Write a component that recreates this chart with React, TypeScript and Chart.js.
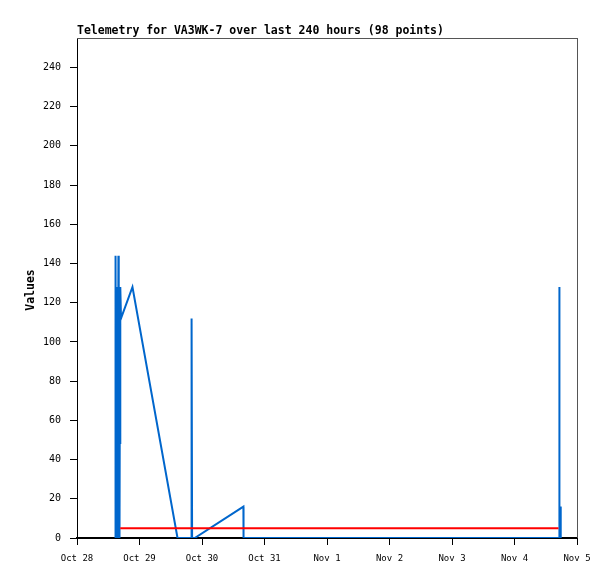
import { useEffect, useRef } from "react";
import { Chart, registerables } from "chart.js";

Chart.register(...registerables);

const TITLE = "Telemetry for VA3WK-7 over last 240 hours (98 points)";
const Y_TITLE = "Values";
// x axis: hours since Oct 28 00:00
const X_TICK_LABELS = ["Oct 28", "Oct 29", "Oct 30", "Oct 31", "Nov 1", "Nov 2", "Nov 3", "Nov 4", "Nov 5"];
const X_MAX_HOURS = 192;
const X_STEP_HOURS = 24;
const Y_MAX = 255;
const Y_STEP = 20;

const blueHours = [
  14.6, 14.7, 14.75, 14.95, 15.0, 15.3, 15.35, 15.6, 15.65, 15.9, 15.95, 16.1, 16.15, 16.3, 16.35,
  16.55, 16.6, 16.65, 16.9, 21.3, 38.6,
  43.85, 43.9, 43.95, 44.0, 44.15, 44.2, 45.2, 63.9, 63.95,
  185.15, 185.2, 185.3, 185.7, 185.75,
];
const blueValues = [
  0, 128, 0, 144, 0, 128, 0, 128, 0, 144, 0, 128, 0, 128, 0,
  128, 48, 128, 112, 128, 0,
  0, 48, 0, 48, 112, 0, 0, 16, 0,
  0, 128, 0, 16, 0,
];

const redHours = [16.6, 184.9];
const redValues = [5, 5];

const tickFontX = { family: "DejaVu Sans Mono", size: 9 };
const tickFontY = { family: "DejaVu Sans Mono", size: 10 };

export default function App() {
  const ref = useRef<HTMLCanvasElement | null>(null);

  useEffect(() => {
    document.body.style.margin = "0";
    const canvas = ref.current;
    if (!canvas) return;

    const framePlugin = {
      id: "frameAndTitles",
      afterDraw(chart: any) {
        const { ctx, chartArea } = chart;
        const { left, top, right, bottom } = chartArea;
        ctx.save();
        ctx.strokeStyle = "#555";
        ctx.lineWidth = 1;
        ctx.beginPath();
        ctx.moveTo(left, top + 0.5);
        ctx.lineTo(right + 1, top + 0.5);
        ctx.moveTo(right + 0.5, top);
        ctx.lineTo(right + 0.5, bottom);
        ctx.stroke();

        ctx.fillStyle = "#000";
        ctx.font = "bold 11.5px 'DejaVu Sans Mono'";
        ctx.textAlign = "left";
        ctx.textBaseline = "alphabetic";
        ctx.fillText(TITLE, left, top - 4);

        ctx.translate(31, (top + bottom) / 2 + 2);
        ctx.rotate(-Math.PI / 2);
        ctx.textAlign = "center";
        ctx.textBaseline = "middle";
        ctx.fillText(Y_TITLE, 0, 0);
        ctx.restore();
      },
    };

    const chart = new Chart(canvas, {
      type: "line",
      data: {
        datasets: [
          {
            data: redHours.map((h, i) => ({ x: h, y: redValues[i] })),
            borderColor: "#ff0000",
            borderWidth: 2,
            pointRadius: 0,
            tension: 0,
            order: 0,
          },
          {
            data: blueHours.map((h, i) => ({ x: h, y: blueValues[i] })),
            borderColor: "#0066cc",
            borderWidth: 2,
            pointRadius: 0,
            tension: 0,
            order: 1,
          },
        ],
      },
      options: {
        animation: false,
        responsive: false,
        layout: { padding: { top: 38, right: 38, left: 0, bottom: 0 } },
        plugins: {
          legend: { display: false },
          tooltip: { enabled: false },
          title: { display: false },
        },
        scales: {
          x: {
            type: "linear",
            min: 0,
            max: X_MAX_HOURS,
            z: 1,
            afterFit: (s: any) => {
              s.height = 41;
            },
            ticks: {
              stepSize: X_STEP_HOURS,
              autoSkip: false,
              maxRotation: 0,
              color: "#000",
              font: tickFontX,
              padding: 8,
              callback: (v: any) => X_TICK_LABELS[Math.round(Number(v) / X_STEP_HOURS)] ?? "",
            },
            grid: {
              display: true,
              drawOnChartArea: false,
              drawTicks: true,
              tickLength: 7,
              tickColor: "#000",
              tickWidth: 1,
            },
            border: { display: true, color: "#000", width: 2 },
          },
          y: {
            type: "linear",
            min: 0,
            max: Y_MAX,
            afterFit: (s: any) => {
              s.width = 77;
            },
            afterBuildTicks: (s: any) => {
              s.ticks = s.ticks.filter((t: any) => t.value % Y_STEP === 0);
            },
            ticks: {
              stepSize: Y_STEP,
              color: "#000",
              font: tickFontY,
              padding: 9,
            },
            grid: {
              display: true,
              drawOnChartArea: false,
              drawTicks: true,
              tickLength: 7,
              tickColor: "#000",
              tickWidth: 1,
            },
            border: { display: true, color: "#000", width: 1 },
          },
        },
      },
      plugins: [framePlugin],
    });

    return () => chart.destroy();
  }, []);

  return (
    <div style={{ width: 615, height: 579, background: "#fff" }}>
      <canvas ref={ref} width={615} height={579} />
    </div>
  );
}
